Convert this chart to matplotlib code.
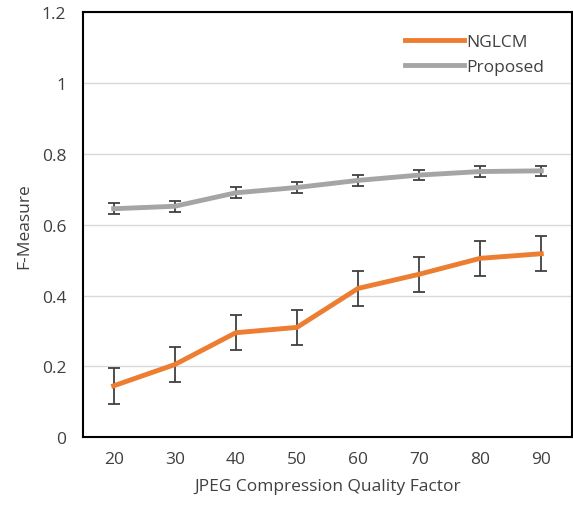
import matplotlib
matplotlib.use("Agg")
import matplotlib.pyplot as plt
from matplotlib.lines import Line2D

quality = ["20", "30", "40", "50", "60", "70", "80", "90"]
nglcm = [0.145, 0.205, 0.295, 0.31, 0.42, 0.46, 0.505, 0.518]
nglcm_err = [0.05, 0.05, 0.05, 0.05, 0.05, 0.05, 0.05, 0.05]
proposed = [0.645, 0.652, 0.69, 0.705, 0.725, 0.74, 0.75, 0.752]
proposed_err = [0.015, 0.015, 0.015, 0.015, 0.015, 0.015, 0.015, 0.015]
yticks = [0, 0.2, 0.4, 0.6, 0.8, 1, 1.2]
ytick_labels = ["0", "0.2", "0.4", "0.6", "0.8", "1", "1.2"]

plt.rcParams['font.family'] = ['Open Sans', 'DejaVu Sans']

fig = plt.figure(figsize=(5.73, 5.06), dpi=100)
ax = fig.add_axes([0.145, 0.134, 0.853, 0.840])

x = list(range(len(quality)))
ax.errorbar(x, nglcm, yerr=nglcm_err, color="#ED7D31", lw=3.5, ecolor="#404040",
            elinewidth=1.3, capsize=4, capthick=1.3, label="NGLCM", zorder=3)
ax.errorbar(x, proposed, yerr=proposed_err, color="#A5A5A5", lw=3.5, ecolor="#404040",
            elinewidth=1.3, capsize=4, capthick=1.3, label="Proposed", zorder=3)

ax.set_xlim(-0.5, len(quality) - 0.5)
ax.set_ylim(0, 1.2)
ax.set_xticks(x)
ax.set_xticklabels(quality)
ax.set_yticks(yticks)
ax.set_yticklabels(ytick_labels)
ax.tick_params(axis='both', length=0, labelsize=12.5, colors="#404040")
ax.tick_params(axis='x', pad=10)
ax.tick_params(axis='y', pad=12)
ax.yaxis.grid(True, color="#D9D9D9", lw=1)
ax.set_axisbelow(True)
for s in ax.spines.values():
    s.set_color("black")
    s.set_linewidth(1.5)

ax.set_xlabel("JPEG Compression Quality Factor", fontsize=12.5, color="#404040", labelpad=8)
ax.set_ylabel("F-Measure", fontsize=12.5, color="#404040", labelpad=7)

labels = ["NGLCM", "Proposed"]
h = [Line2D([0], [0], color="#ED7D31", lw=3.5), Line2D([0], [0], color="#A5A5A5", lw=3.5)]
ax.legend(h, labels, loc="upper right", frameon=False, fontsize=12.5, handlelength=3.4,
          handletextpad=0.1, labelspacing=0.5, bbox_to_anchor=(0.975, 0.985), labelcolor="#404040")

fig.savefig("out.png", dpi=100)
